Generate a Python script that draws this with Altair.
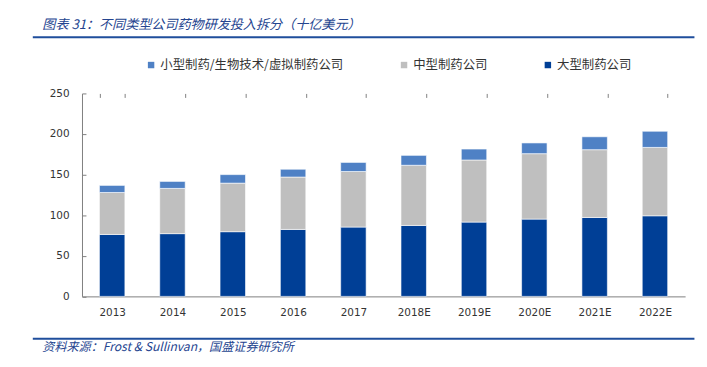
import altair as alt
import pandas as pd

years = ["2013", "2014", "2015", "2016", "2017", "2018E", "2019E", "2020E", "2021E", "2022E"]
large = [76.3, 77.3, 79.7, 82.5, 85.4, 87.4, 91.5, 95.2, 97.2, 99.3]
mid = [51.7, 55.7, 59.8, 64.5, 68.4, 74.1, 76.5, 80.6, 83.5, 84.2]
small = [8.7, 8.6, 10.5, 9.6, 11.2, 12.2, 13.5, 13.2, 15.9, 19.9]
series = ["小型制药/生物技术/虚拟制药公司", "中型制药公司", "大型制药公司"]
colors = ["#4F81C5", "#BFBFBF", "#003F96"]
y_ticks = [0, 50, 100, 150, 200, 250]
title_text = "图表 31：不同类型公司药物研发投入拆分（十亿美元）"
source_text = "资料来源：Frost & Sullinvan，国盛证券研究所"

rows = []
for i, y in enumerate(years):
    rows.append({"year": y, "series": series[2], "value": large[i], "order": 0})
    rows.append({"year": y, "series": series[1], "value": mid[i], "order": 1})
    rows.append({"year": y, "series": series[0], "value": small[i], "order": 2})
df = pd.DataFrame(rows)

W, H = 608, 204.6
axis_color = "#7F7F7F"

bars = alt.Chart(df).mark_bar(stroke="white", strokeWidth=0.6).encode(
    x=alt.X("year:N", sort=years,
            scale=alt.Scale(paddingInner=0.578, paddingOuter=0.289),
            axis=alt.Axis(title=None, labelAngle=0, tickBand="extent", ticks=False, tickSize=0,
                          grid=True, gridDash=[4, 2000], gridColor=axis_color, gridWidth=1,
                          labelPadding=11)),
    y=alt.Y("value:Q", stack="zero",
            scale=alt.Scale(domain=[0, 250], nice=False),
            axis=alt.Axis(title=None, values=y_ticks, ticks=False, tickSize=0,
                          grid=True, gridDash=[4, 2000], gridColor=axis_color, gridWidth=1,
                          labelPadding=13)),
    color=alt.Color("series:N", scale=alt.Scale(domain=series, range=colors),
                    legend=alt.Legend(title=None, orient="none", direction="horizontal",
                                      legendX=63.4, legendY=-35, columnPadding=54,
                                      symbolType="square", symbolSize=42, symbolStrokeWidth=0,
                                      labelOffset=3, labelFont="Noto Sans CJK SC",
                                      labelFontSize=12.5, labelColor="#333333", labelLimit=400)),
    order=alt.Order("order:Q"),
)

one = pd.DataFrame({"a": [0]})
line_color = "#1F4E9C"
title_line = alt.Chart(one).mark_rule(color=line_color, strokeWidth=2).encode(
    x=alt.value(-49.6), x2=alt.value(617.4), y=alt.value(-56.7))
foot_line = alt.Chart(one).mark_rule(color=line_color, strokeWidth=2).encode(
    x=alt.value(-49.6), x2=alt.value(617.4), y=alt.value(247.3))
title_mark = alt.Chart(one).mark_text(align="left", baseline="middle", font="Noto Sans CJK SC",
                                      fontSize=13.2, fontStyle="italic", color="#24448F").encode(
    x=alt.value(-40), y=alt.value(-68.7), text=alt.value(title_text))
foot_mark = alt.Chart(one).mark_text(align="left", baseline="middle", font="Noto Sans CJK SC",
                                     fontSize=12.2, fontStyle="italic", color="#24448F").encode(
    x=alt.value(-40), y=alt.value(255.3), text=alt.value(source_text))

chart = alt.layer(bars, title_line, foot_line, title_mark, foot_mark).properties(
    width=W, height=H,
    autosize=alt.AutoSizeParams(type="none"),
    padding={"left": 74.6, "top": 84.7, "right": 14, "bottom": 62},
).configure_view(stroke=None).configure_axis(
    labelFont="DejaVu Sans", labelFontSize=10.5, labelColor="#333333",
    domainColor=axis_color, domainWidth=1,
)

chart.save("out.html", embed_options={"renderer": "svg", "actions": False})
